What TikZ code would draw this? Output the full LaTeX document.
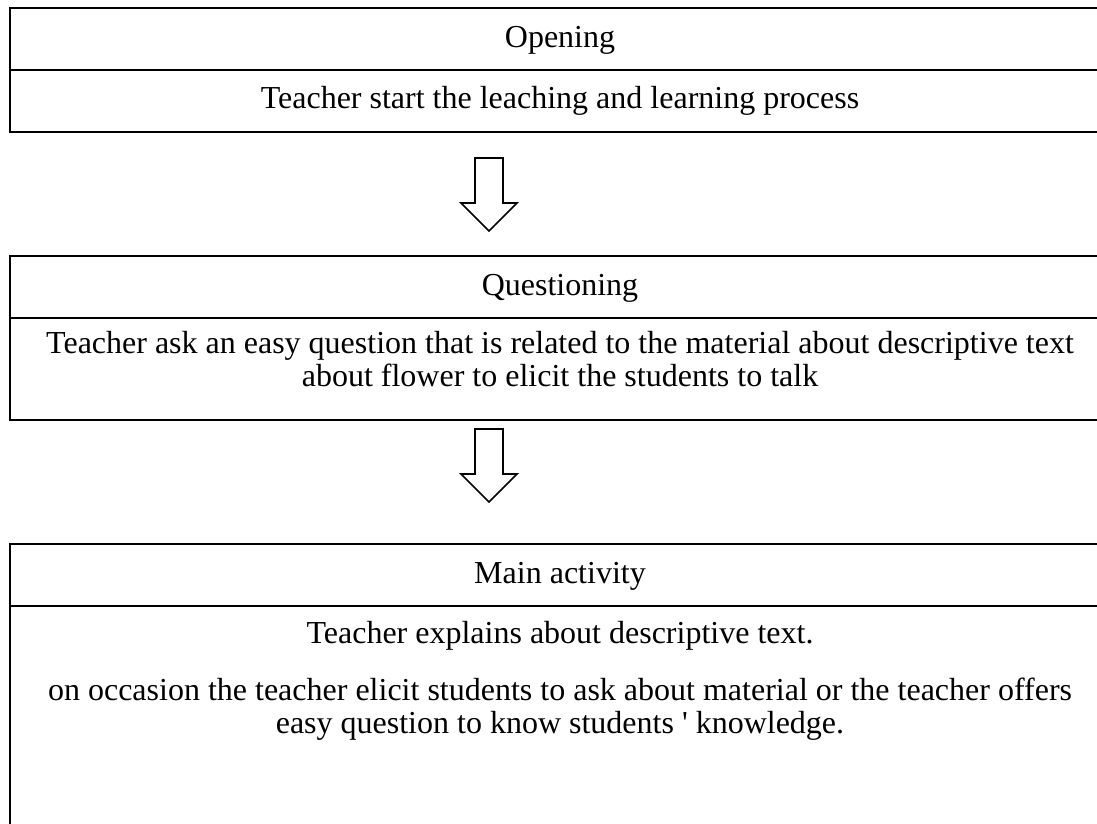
\documentclass[tikz,border=0pt]{standalone}
\usepackage{fontspec}
\setmainfont{Liberation Serif}
\begin{document}
\begin{tikzpicture}[x=1pt,y=-1pt,
  frame/.style={line width=2.2pt},
  blockarrow/.style={line width=1.6pt, line join=miter, fill=white},
  txt/.style={inner sep=0pt, anchor=base, font=\fontsize{32}{36}\selectfont}]
\useasboundingbox (0,0) rectangle (1097,823);
\clip (0,0) rectangle (1097,823);

% Opening box
\draw[frame] (10,8) rectangle (1120,132);
\draw[frame] (10,70) -- (1120,70);
\node[txt] (opening) at (560,47) {Opening};
\node[txt] (start) at (560,108) {Teacher start the leaching and learning process};

% arrow down to the questioning box
\draw[blockarrow] (475,158) -- (503,158) -- (503,203) -- (517,203) -- (489,231)
  -- (461,203) -- (475,203) -- cycle;

% Questioning box
\draw[frame] (10,256) rectangle (1120,420);
\draw[frame] (10,318) -- (1120,318);
\node[txt] (questioning) at (560,295) {Questioning};
\node[txt] (ask1) at (560,353) {Teacher ask an easy question that is related to the material about descriptive text};
\node[txt] (ask2) at (560,386) {about flower to elicit the students to talk};

% arrow down to the main activity box
\draw[blockarrow] (475,429) -- (503,429) -- (503,474) -- (517,474) -- (489,502)
  -- (461,474) -- (475,474) -- cycle;

% Main activity box
\draw[frame] (10,544) rectangle (1120,860);
\draw[frame] (10,606) -- (1120,606);
\node[txt] (mainact) at (560,583) {Main activity};
\node[txt] (explain) at (560,643) {Teacher explains about descriptive text.};
\node[txt] (occ1) at (560,700) {on occasion the teacher elicit students to ask about material or the teacher offers};
\node[txt] (occ2) at (560,733) {easy question to know students \textquotesingle{} knowledge.};
\end{tikzpicture}
\end{document}
